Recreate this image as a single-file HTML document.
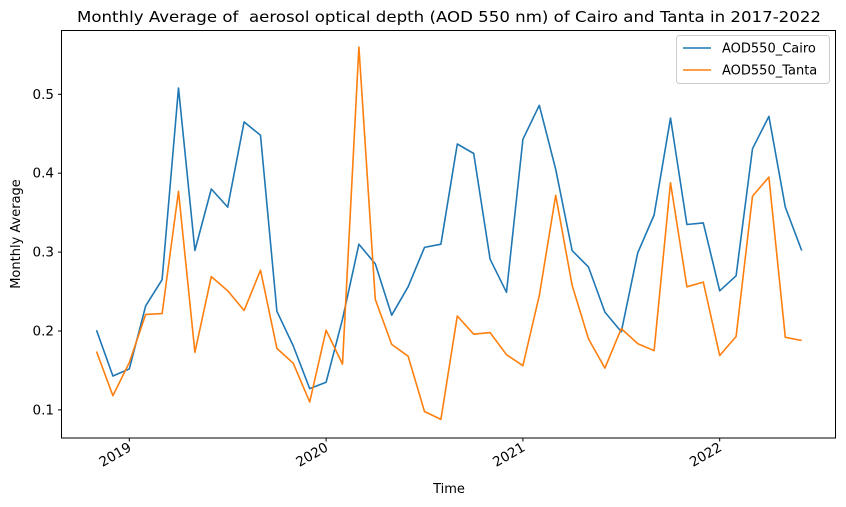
<!DOCTYPE html>
<html><head><meta charset="utf-8"><style>
html,body{margin:0;padding:0;background:#fff;}
svg{display:block;font-family:"DejaVu Sans","Liberation Sans",sans-serif;}
</style></head><body>
<svg id="chart" width="846" height="507" viewBox="0 0 846 507">
<text x="449" y="22" font-size="15.5" text-anchor="middle" fill="#000" textLength="744" lengthAdjust="spacingAndGlyphs" style="white-space:pre">Monthly Average of &#160;aerosol optical depth (AOD 550 nm) of Cairo and Tanta in 2017-2022</text>
<g id="plot"></g>
<rect x="61.5" y="30.5" width="774" height="407.5" fill="none" stroke="#000" stroke-width="1"/>
<text x="449" y="493" font-size="13" text-anchor="middle">Time</text>
<text transform="translate(20,234) rotate(-90)" font-size="13" text-anchor="middle">Monthly Average</text>
<g>
<rect x="676.5" y="35.5" width="153" height="48" rx="3" fill="#fff" stroke="#ccc" stroke-width="1"/>
<line x1="683" y1="48" x2="711" y2="48" stroke="#1f77b4" stroke-width="1.6"/>
<text x="722" y="52.5" font-size="13">AOD550_Cairo</text>
<line x1="683" y1="70" x2="711" y2="70" stroke="#ff7f0e" stroke-width="1.6"/>
<text x="722" y="74.5" font-size="13">AOD550_Tanta</text>
</g>
</svg>
<script>
const startMonthOffset = -2; // Nov 2018 relative to Jan 2019
const cairo = [0.201,0.143,0.152,0.232,0.265,0.508,0.302,0.380,0.357,0.465,0.448,0.225,0.181,0.127,0.135,0.215,0.310,0.285,0.220,0.256,0.306,0.310,0.437,0.425,0.291,0.249,0.443,0.486,0.405,0.302,0.281,0.224,0.199,0.299,0.347,0.470,0.335,0.337,0.251,0.270,0.431,0.472,0.357,0.302];
const tanta = [0.174,0.118,0.160,0.221,0.222,0.377,0.173,0.269,0.251,0.226,0.277,0.178,0.159,0.110,0.201,0.158,0.560,0.240,0.183,0.168,0.098,0.088,0.219,0.196,0.198,0.170,0.156,0.245,0.372,0.258,0.190,0.153,0.203,0.184,0.175,0.388,0.256,0.262,0.169,0.193,0.371,0.395,0.192,0.188];
const yTicks = [0.1,0.2,0.3,0.4,0.5];
const yTickLabels = ["0.1","0.2","0.3","0.4","0.5"];
const xTickYears = [2019,2020,2021,2022];

const NS = "http://www.w3.org/2000/svg";
const g = document.getElementById('plot');
function xScale(m){ return 129.3 + m*16.4; }
function yScale(v){ return 94.3 + (0.5 - v)*789; }
function mk(tag, attrs){ const e=document.createElementNS(NS,tag); for(const k in attrs) e.setAttribute(k,attrs[k]); g.appendChild(e); return e; }

yTicks.forEach((v,i)=>{
  const y=yScale(v);
  const t=mk('line',{x1:58,y1:y,x2:61.5,y2:y,stroke:'#000','stroke-width':1});
  
  
  const l=mk('text',{x:54,y:y+4.5,'font-size':13.5,'text-anchor':'end'});
  l.textContent=yTickLabels[i];
  
  
});
xTickYears.forEach(yr=>{
  const x=xScale((yr-2019)*12);
  const t=mk('line',{x1:x,y1:438,x2:x,y2:441.5,stroke:'#000','stroke-width':1});
  
  
  const l=mk('text',{transform:`translate(${x+3},${450}) rotate(-30)`,'font-size':13.5,'text-anchor':'end'});
  l.textContent=String(yr);
  
  
});
function series(data,color,name){
  const pts=data.map((v,i)=>xScale(i+startMonthOffset).toFixed(1)+','+yScale(v).toFixed(1)).join(' ');
  const p=mk('polyline',{points:pts,fill:'none',stroke:color,'stroke-width':1.6,'stroke-linejoin':'round'});
  
  
}
series(cairo,'#1f77b4','line-cairo');
series(tanta,'#ff7f0e','line-tanta');
</script>
</body></html>
